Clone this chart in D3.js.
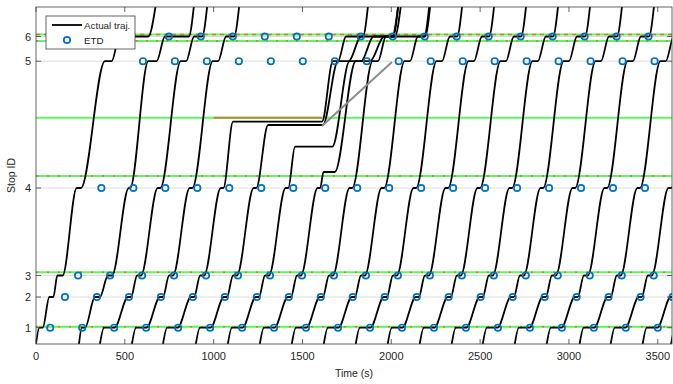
<!DOCTYPE html>
<html>
<head>
<meta charset="utf-8">
<script src="https://cdn.jsdelivr.net/npm/d3@7"></script>
<style>
  body { margin: 0; background: #fff; }
  svg { display: block; }
  text { font-family: "Liberation Sans", Arial, Helvetica, sans-serif; fill: #262626; }
</style>
</head>
<body>
<svg id="chart" width="673" height="384"></svg>
<script>
// ---- corridor layout (positions in metres) ----
const stopIds = [1, 2, 3, 4, 5, 6];
const stopPos = [163, 470, 685, 1560, 2828, 3075];
const signalPos = [173, 717, 1680, 2263, 3030, 3095];
const signalDash = ["2,9", "2,9", "2,9", null, "2,8", "4,4"];
const xTicks = [0, 500, 1000, 1500, 2000, 2500, 3000, 3500];
const exitPos = 3400;

// ---- bus runs: entry time at 0 m, arrival / departure at each stop, exit time ----
const busEntry = [0, 242, 360, 540, 715, 900, 1080, 1260, 1440, 1620, 1800, 1980, 2160, 2340, 2515, 2695, 2875, 3060, 3235, 3415, 3575];
const arr1 = [19, 258, 383, 563, 738, 923, 1103, 1283, 1463, 1643, 1823, 2003, 2183, 2363, 2538, 2718, 2898, 3083, 3258, 3438, 3598];
const dep1 = [38, 276, 442, 622, 797, 982, 1162, 1342, 1522, 1702, 1882, 2062, 2242, 2422, 2597, 2777, 2957, 3142, 3317, 3497, 3657];
const arr2 = [75, 332, 518, 698, 873, 1058, 1238, 1418, 1598, 1778, 1958, 2138, 2318, 2498, 2673, 2853, 3033, 3218, 3393, 3573, 3733];
const dep2 = [98, 360, 535, 715, 890, 1075, 1255, 1435, 1615, 1795, 1975, 2155, 2335, 2515, 2690, 2870, 3050, 3235, 3410, 3590, 3750];
const arr3 = [120, 405, 569, 749, 924, 1109, 1289, 1469, 1649, 1829, 2009, 2189, 2369, 2549, 2724, 2904, 3084, 3269, 3444, 3624, 3784];
const dep3 = [150, 428, 591, 771, 946, 1131, 1311, 1491, 1671, 1851, 2031, 2211, 2391, 2571, 2746, 2926, 3106, 3291, 3466, 3646, 3806];
const arr4 = [229, 522, 685, 865, 1040, 1225, 1405, 1585, 1765, 1945, 2125, 2305, 2485, 2665, 2840, 3020, 3200, 3385, 3560, 3740, 3900];
const dep4 = [253, 530, 700, 880, 1055, 1240, 1420, 1600, 1780, 1960, 2140, 2320, 2500, 2680, 2855, 3035, 3215, 3400, 3575, 3755, 3915];
const arr5 = [388, 632, 815, 995, 1671, 1700, 1765, 1800, 1895, 2075, 2255, 2435, 2615, 2795, 2970, 3150, 3330, 3515, 3690, 3870, 4030];
const dep5 = [426, 679, 845, 1025, 1700, 1760, 1830, 1880, 1925, 2105, 2285, 2465, 2645, 2825, 3000, 3180, 3360, 3545, 3720, 3900, 4060];
const arr6 = [470, 726, 890, 1070, 1745, 1830, 1900, 1960, 1970, 2150, 2330, 2510, 2690, 2870, 3045, 3225, 3405, 3590, 3765, 3945, 4105];
const dep6 = [632, 860, 935, 1115, 1840, 2005, 2020, 2185, 2010, 2190, 2370, 2550, 2730, 2910, 3090, 3270, 3450, 3635, 3810, 3990, 4150];
const busExit = [675, 890, 965, 1145, 1870, 2040, 2055, 2215, 2040, 2220, 2400, 2580, 2760, 2940, 3120, 3300, 3480, 3665, 3840, 4020, 4180];

// ---- queue hold upstream of the blocked signal ----
const holdPos = [null, null, null, null, 2223, 2190, 1973, 1720, null, null, null, null, null, null, null, null, null, null, null, null, null];
const holdArr = [null, null, null, null, 1109, 1306, 1458, 1618, null, null, null, null, null, null, null, null, null, null, null, null, null];
const holdDep = [null, null, null, null, 1610, 1615, 1668, 1682, null, null, null, null, null, null, null, null, null, null, null, null, null];

// ---- blocked interval at the mid-corridor signal and the discharge wave ----
const blockTime = [1000, 1610];
const blockPos = 2263;
const waveTime = [1610, 2004];
const wavePos = [2180, 2820];

// ---- expected times of departure (ETD) per stop ----
const etd1 = [80, 260, 440, 620, 800, 980, 1160, 1340, 1520, 1700, 1880, 2060, 2240, 2420, 2600, 2780, 2960, 3140, 3320, 3500];
const etd2 = [163, 343, 523, 703, 883, 1063, 1243, 1423, 1603, 1783, 1963, 2143, 2323, 2503, 2683, 2863, 3043, 3223, 3403, 3583];
const etd3 = [237, 417, 597, 777, 957, 1137, 1317, 1497, 1677, 1857, 2037, 2217, 2397, 2577, 2757, 2937, 3117, 3297, 3477];
const etd4 = [368, 548, 728, 908, 1088, 1268, 1448, 1628, 1808, 1988, 2168, 2348, 2528, 2708, 2888, 3068, 3248, 3428];
const etd5 = [602, 782, 962, 1142, 1322, 1502, 1682, 1862, 2042, 2222, 2402, 2582, 2762, 2942, 3122, 3302, 3482];
const etd6 = [748, 928, 1108, 1288, 1468, 1648, 1828, 2008, 2188, 2368, 2548, 2728, 2908, 3088, 3268, 3448];
const etdByStop = [etd1, etd2, etd3, etd4, etd5, etd6];

// ---- chart frame ----
const plot = { left: 36, right: 672, top: 7, bottom: 344 };

const svg = d3.select("#chart");
const x = d3.scaleLinear().domain([0, 3580]).range([plot.left, plot.right]);
const y = d3.scaleLinear().domain([0, 3370]).range([plot.bottom, plot.top]);

svg.append("defs").append("clipPath").attr("id", "plotClip")
  .append("rect")
  .attr("x", plot.left).attr("y", plot.top)
  .attr("width", plot.right - plot.left).attr("height", plot.bottom - plot.top);

const body = svg.append("g").attr("clip-path", "url(#plotClip)");

// horizontal grid at the stops
body.append("g").selectAll("line").data(stopPos).join("line")
  .attr("x1", plot.left).attr("x2", plot.right)
  .attr("y1", d => y(d)).attr("y2", d => y(d))
  .attr("stroke", "#dcdcdc").attr("stroke-width", 1);

// signals: green line with dashed red-phase overlay
body.append("g").selectAll("line").data(signalPos).join("line")
  .attr("x1", plot.left).attr("x2", plot.right)
  .attr("y1", d => y(d)).attr("y2", d => y(d))
  .attr("stroke", "#62f562").attr("stroke-width", 2);
body.append("g").selectAll("line")
  .data(signalPos.map((p, i) => ({ p, dash: signalDash[i] })).filter(d => d.dash))
  .join("line")
  .attr("x1", plot.left).attr("x2", plot.right)
  .attr("y1", d => y(d.p)).attr("y2", d => y(d.p))
  .attr("stroke", "#d9772a").attr("stroke-width", 1.4)
  .attr("stroke-dasharray", d => d.dash);

// blocked interval on the mid-corridor signal
body.append("line")
  .attr("x1", x(blockTime[0])).attr("x2", x(blockTime[1]))
  .attr("y1", y(blockPos)).attr("y2", y(blockPos))
  .attr("stroke", "#b98a32").attr("stroke-width", 2);

// bus trajectories
const runs = busEntry.map((t0, i) => {
  const pts = [[t0, 0],
    [arr1[i], stopPos[0]], [dep1[i], stopPos[0]],
    [arr2[i], stopPos[1]], [dep2[i], stopPos[1]],
    [arr3[i], stopPos[2]], [dep3[i], stopPos[2]],
    [arr4[i], stopPos[3]], [dep4[i], stopPos[3]]];
  if (holdPos[i] !== null) pts.push([holdArr[i], holdPos[i]], [holdDep[i], holdPos[i]]);
  pts.push([arr5[i], stopPos[4]], [dep5[i], stopPos[4]],
    [arr6[i], stopPos[5]], [dep6[i], stopPos[5]],
    [busExit[i], exitPos]);
  return pts;
});

const traj = d3.line().x(d => x(d[0])).y(d => y(d[1])).curve(d3.curveMonotoneX);
body.append("g").selectAll("path").data(runs).join("path")
  .attr("d", traj)
  .attr("fill", "none").attr("stroke", "#000").attr("stroke-width", 1.8)
  .attr("stroke-linejoin", "round");

// discharge wave
body.append("line")
  .attr("x1", x(waveTime[0])).attr("y1", y(wavePos[0]))
  .attr("x2", x(waveTime[1])).attr("y2", y(wavePos[1]))
  .attr("stroke", "#8c8c8c").attr("stroke-width", 2);

// ETD markers
const etdPts = etdByStop.flatMap((arr, s) => arr.map(t => ({ t, p: stopPos[s] })));
body.append("g").selectAll("circle").data(etdPts).join("circle")
  .attr("cx", d => x(d.t)).attr("cy", d => y(d.p)).attr("r", 3.2)
  .attr("fill", "none").attr("stroke", "#0072BD").attr("stroke-width", 1.7);

// ---- axes box and ticks ----
const axisCol = "#404040";
svg.append("rect")
  .attr("x", plot.left).attr("y", plot.top)
  .attr("width", plot.right - plot.left).attr("height", plot.bottom - plot.top)
  .attr("fill", "none").attr("stroke", axisCol).attr("stroke-width", 0.8);

const xt = svg.append("g");
xTicks.forEach(t => {
  xt.append("line").attr("x1", x(t)).attr("x2", x(t))
    .attr("y1", plot.bottom).attr("y2", plot.bottom - 5).attr("stroke", axisCol).attr("stroke-width", 0.8);
  xt.append("line").attr("x1", x(t)).attr("x2", x(t))
    .attr("y1", plot.top).attr("y2", plot.top + 5).attr("stroke", axisCol).attr("stroke-width", 0.8);
  xt.append("text").attr("x", x(t)).attr("y", plot.bottom + 16)
    .attr("text-anchor", "middle").attr("font-size", 11).text(t);
});

const yt = svg.append("g");
stopPos.forEach((p, i) => {
  yt.append("line").attr("x1", plot.left).attr("x2", plot.left + 5)
    .attr("y1", y(p)).attr("y2", y(p)).attr("stroke", axisCol).attr("stroke-width", 0.8);
  yt.append("line").attr("x1", plot.right).attr("x2", plot.right - 5)
    .attr("y1", y(p)).attr("y2", y(p)).attr("stroke", axisCol).attr("stroke-width", 0.8);
  yt.append("text").attr("x", plot.left - 5).attr("y", y(p) + 4)
    .attr("text-anchor", "end").attr("font-size", 11).text(stopIds[i]);
});

svg.append("text").attr("x", (plot.left + plot.right) / 2).attr("y", 377)
  .attr("text-anchor", "middle").attr("font-size", 10.5).text("Time (s)");
svg.append("text").attr("transform", `translate(15,${(plot.top + plot.bottom) / 2}) rotate(-90)`)
  .attr("text-anchor", "middle").attr("font-size", 10.5).text("Stop ID");

// ---- legend ----
const lg = svg.append("g").attr("transform", "translate(46,16)");
lg.append("rect").attr("width", 89).attr("height", 33)
  .attr("fill", "#fff").attr("stroke", "#404040").attr("stroke-width", 0.8);
lg.append("line").attr("x1", 6).attr("x2", 36).attr("y1", 9).attr("y2", 9)
  .attr("stroke", "#000").attr("stroke-width", 1.8);
lg.append("text").attr("x", 38).attr("y", 12.5).attr("font-size", 9.8).text("Actual traj.");
lg.append("circle").attr("cx", 21).attr("cy", 24).attr("r", 3.2)
  .attr("fill", "none").attr("stroke", "#0072BD").attr("stroke-width", 1.7);
lg.append("text").attr("x", 38).attr("y", 27.5).attr("font-size", 9.8).text("ETD");
</script>
</body>
</html>
